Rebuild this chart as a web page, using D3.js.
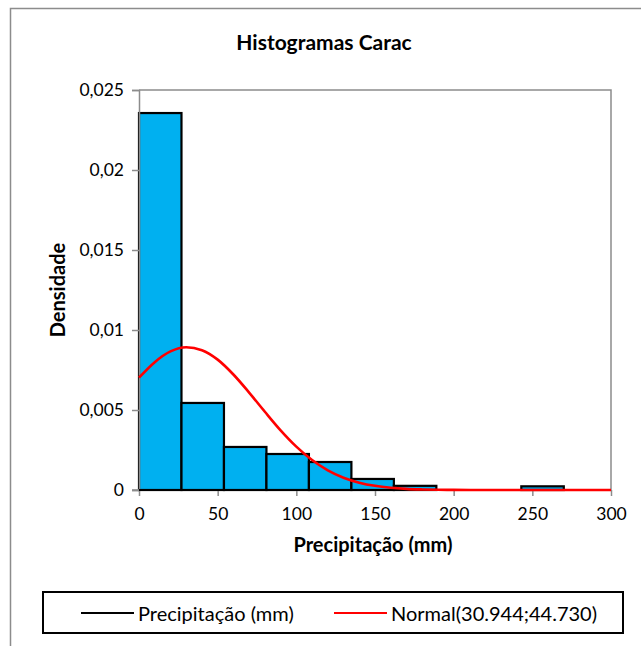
<!DOCTYPE html>
<html><head><meta charset="utf-8">
<script src="https://cdn.jsdelivr.net/npm/d3@7"></script>
<style>body{margin:0;background:#fff}svg{display:block}text{font-family:Lato,"Open Sans",sans-serif;fill:#000}</style>
</head><body>
<script>
// Histogram bins (mm) and density
const binStarts = [0, 27, 54, 81, 108, 135, 162, 189, 216, 243];
const binWidth = 27;
const densities = [0.02356, 0.00544, 0.00269, 0.00225, 0.00175, 0.00069, 0.00026, 0, 0, 0.00023];
// Normal(30.944;44.730) curve points
const normalX = [0, 10, 20, 30, 40, 50, 60, 70, 80, 90, 100, 110, 120, 130, 140, 150, 160, 170, 180, 190, 200, 220, 250, 300];
const normalY = [0.00702, 0.00799, 0.00866, 0.00892, 0.00874, 0.00815, 0.00722, 0.00609, 0.00489, 0.00373, 0.00271, 0.00187, 0.00123, 0.00077, 0.00046, 0.00026, 0.00014, 0.00007, 0.000035, 0.000016, 0.000007, 0.000001, 0, 0];
const xTicks = [0, 50, 100, 150, 200, 250, 300];
const yTicks = [0, 0.005, 0.01, 0.015, 0.02, 0.025];
const yTickLabels = ["0", "0,005", "0,01", "0,015", "0,02", "0,025"];

const W = 641, H = 646;
const svg = d3.select("body").append("svg").attr("width", W).attr("height", H);
// outer chart border
svg.append("rect").attr("x", 10.5).attr("y", 8.5).attr("width", 700).attr("height", 700)
  .attr("fill", "none").attr("stroke", "#8c8c8c").attr("stroke-width", 1.5);

const L = 139, R = 611, T = 90, B = 490;
const x = d3.scaleLinear().domain([0, 300]).range([L, R]);
const y = d3.scaleLinear().domain([0, 0.025]).range([B, T]);

// title
svg.append("text").attr("x", 324).attr("y", 50).attr("text-anchor", "middle")
  .attr("font-size", 21).attr("font-weight", "bold").text("Histogramas Carac");

// plot border (top/right)
svg.append("path").attr("d", `M${L},${T}H${R}V${B}`).attr("fill", "none").attr("stroke", "#8c8c8c").attr("stroke-width", 1.5);

// bars
svg.append("g").selectAll("rect").data(binStarts).join("rect")
  .attr("x", (d) => x(d)).attr("width", (d) => x(d + binWidth) - x(d))
  .attr("y", (d, i) => y(densities[i])).attr("height", (d, i) => B - y(densities[i]))
  .attr("fill", "#00B0F0").attr("stroke", "#000").attr("stroke-width", 2.2);

// axes
const yAxis = svg.append("g").attr("transform", `translate(${L},0)`)
  .call(d3.axisLeft(y).tickValues(yTicks).tickFormat((d, i) => yTickLabels[i]).tickSize(7).tickPadding(8));
const xAxis = svg.append("g").attr("transform", `translate(0,${B})`)
  .call(d3.axisBottom(x).tickValues(xTicks).tickFormat(d3.format("d")).tickSize(6).tickPadding(12));
[yAxis, xAxis].forEach(g => {
  g.selectAll("path,line").attr("stroke", "#8c8c8c").attr("stroke-width", 1.5);
  g.selectAll("text").attr("font-size", 17.5).attr("fill", "#000").style("font-family", "Lato, 'Open Sans', sans-serif");
});
xAxis.select(".domain").remove();
svg.append("line").attr("x1", L - 7).attr("x2", R).attr("y1", B).attr("y2", B).attr("stroke", "#8c8c8c").attr("stroke-width", 1.5);
// redraw bar bottoms over axis line
svg.append("line").attr("x1", x(0)).attr("x2", x(270)).attr("y1", B).attr("y2", B).attr("stroke", "#000").attr("stroke-width", 2.2);

// normal curve
const line = d3.line().x((d, i) => x(normalX[i])).y((d) => y(d)).curve(d3.curveMonotoneX);
svg.append("path").datum(normalY).attr("d", line).attr("fill", "none").attr("stroke", "#FF0000").attr("stroke-width", 2.6);

// axis titles
svg.append("text").attr("x", 373).attr("y", 552).attr("text-anchor", "middle")
  .attr("font-size", 20).attr("font-weight", "bold").text("Precipitação (mm)");
svg.append("text").attr("transform", `translate(65,${(T + B) / 2}) rotate(-90)`).attr("text-anchor", "middle")
  .attr("font-size", 20).attr("font-weight", "bold").text("Densidade");

// legend
svg.append("rect").attr("x", 43).attr("y", 592).attr("width", 580).attr("height", 41)
  .attr("fill", "#fff").attr("stroke", "#000").attr("stroke-width", 2);
const legendItems = [
  {label: "Precipitação (mm)", color: "#000", x0: 81},
  {label: "Normal(30.944;44.730)", color: "#FF0000", x0: 334}
];
legendItems.forEach(it => {
  svg.append("line").attr("x1", it.x0).attr("x2", it.x0 + 53).attr("y1", 613).attr("y2", 613)
    .attr("stroke", it.color).attr("stroke-width", 2.2);
  svg.append("text").attr("x", it.x0 + 57).attr("y", 621).attr("font-size", 20).text(it.label);
});
</script>
</body></html>
